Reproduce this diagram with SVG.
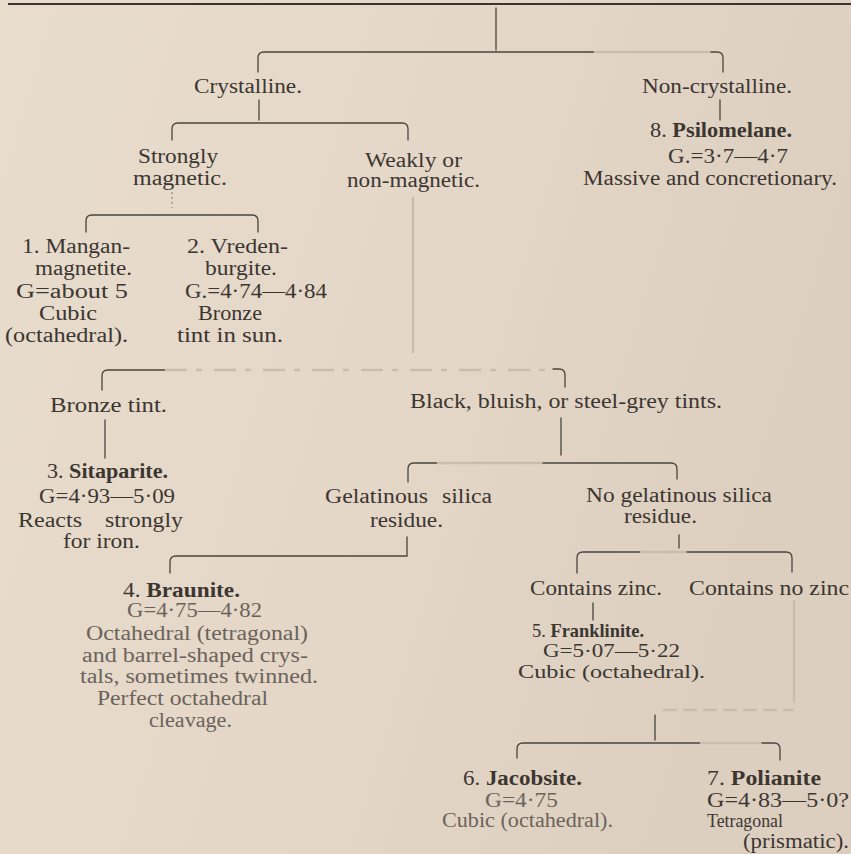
<svg xmlns="http://www.w3.org/2000/svg" width="851" height="854" viewBox="0 0 851 854">
  <defs>
    <linearGradient id="paper" x1="0" y1="0" x2="1" y2="0.3">
      <stop offset="0" stop-color="#e8dccd"/>
      <stop offset="0.55" stop-color="#e4d7c8"/>
      <stop offset="1" stop-color="#dccfc0"/>
    </linearGradient>
    <style>
      text { font-family: "Liberation Serif", "Times New Roman", serif; font-size: 20px; fill: #3c3631; }
      .b { font-weight: bold; }
      .s19 { font-size: 19px; }
      .pale { fill: #6b635b; }
      .ln { stroke: #4a443e; stroke-width: 1.3; fill: none; stroke-linecap: round; }
      .faint { stroke: #cbbdae; stroke-width: 2.4; fill: none; }
      .dot { stroke: #7a7168; stroke-width: 1; stroke-dasharray: 2 3; fill: none; }
      .rule { stroke: #3a3430; stroke-width: 2.2; }
    </style>
  </defs>

  <rect width="851" height="854" fill="url(#paper)"/>

  <!-- connectors -->
  <g id="connectors">
    <line class="rule" x1="8" y1="4" x2="851" y2="4"/>
    <line class="ln" x1="496" y1="8" x2="496" y2="50"/>
    <path class="ln" d="M258,72 V58 Q258,52 264,52 H594"/>
    <line class="faint" x1="594" y1="52" x2="711" y2="52"/>
    <path class="ln" d="M711,52 H717 Q723,52 723,58 V72"/>

    <line class="ln" x1="259" y1="100" x2="259" y2="120"/>
    <line class="ln" x1="720" y1="100" x2="720" y2="120"/>
    <path class="ln" d="M172,140 V129 Q172,123 178,123 H402 Q408,123 408,129 V140"/>

    <line class="dot" x1="172" y1="192" x2="172" y2="208"/>
    <path class="ln" d="M86,232 V221 Q86,215 92,215 H252 Q258,215 258,221 V232"/>

    <line class="faint" x1="413" y1="197" x2="413" y2="353"/>
    <path class="ln" d="M102,390 V376 Q102,370 108,370 H165"/>
    <line class="faint" x1="165" y1="370" x2="553" y2="370" stroke-dasharray="22 9 6 12"/>
    <path class="ln" d="M553,369 H559 Q565,369 565,375 V387"/>

    <line class="ln" x1="105" y1="420" x2="105" y2="458"/>
    <line class="ln" x1="561" y1="418" x2="561" y2="455"/>

    <path class="ln" d="M408,482 V469 Q408,463 414,463 H437"/>
    <line class="faint" x1="437" y1="463" x2="543" y2="463"/>
    <path class="ln" d="M543,463 H671 Q677,463 677,469 V479"/>

    <path class="ln" d="M407,537 V556 H176 Q170,556 170,562 V573"/>

    <line class="ln" x1="679" y1="535" x2="679" y2="548"/>
    <path class="ln" d="M577,573 V558 Q577,552 583,552 H640"/>
    <line class="faint" x1="640" y1="552" x2="687" y2="552"/>
    <path class="ln" d="M687,552 H786 Q792,552 792,558 V572"/>

    <line class="ln" x1="593" y1="603" x2="593" y2="620"/>
    <line class="faint" x1="794" y1="600" x2="794" y2="703"/>
    <line class="faint" x1="663" y1="710" x2="794" y2="710" stroke-dasharray="14 6"/>
    <line class="ln" x1="655" y1="715" x2="655" y2="740"/>
    <path class="ln" d="M517,758 V749 Q517,743 523,743 H700"/>
    <line class="faint" x1="700" y1="743" x2="762" y2="743"/>
    <path class="ln" d="M762,743 H774 Q780,743 780,749 V760"/>
  </g>

  <g id="crystalline">
    <text x="194" y="93" textLength="108" lengthAdjust="spacingAndGlyphs">Crystalline.</text>
  </g>
  <g id="non-crystalline">
    <text x="642" y="93" textLength="150" lengthAdjust="spacingAndGlyphs">Non-crystalline.</text>
  </g>
  <g id="psilomelane">
    <text x="650" y="137" textLength="142" lengthAdjust="spacingAndGlyphs">8. <tspan class="b">Psilomelane.</tspan></text>
    <text x="668" y="163" textLength="120" lengthAdjust="spacingAndGlyphs">G.=3·7—4·7</text>
    <text x="583" y="185" textLength="254" lengthAdjust="spacingAndGlyphs">Massive and concretionary.</text>
  </g>

  <g id="strongly-magnetic">
    <text x="138" y="163" textLength="80" lengthAdjust="spacingAndGlyphs">Strongly</text>
    <text x="133" y="185" textLength="94" lengthAdjust="spacingAndGlyphs">magnetic.</text>
  </g>
  <g id="weakly-magnetic">
    <text x="365" y="167" textLength="97" lengthAdjust="spacingAndGlyphs">Weakly or</text>
    <text x="347" y="187" textLength="133" lengthAdjust="spacingAndGlyphs">non-magnetic.</text>
  </g>

  <g id="manganmagnetite">
    <text x="22" y="253" textLength="108" lengthAdjust="spacingAndGlyphs">1. Mangan-</text>
    <text x="35" y="275" textLength="97" lengthAdjust="spacingAndGlyphs">magnetite.</text>
    <text x="16" y="298" textLength="112" lengthAdjust="spacingAndGlyphs">G=about 5</text>
    <text x="39" y="320" textLength="58" lengthAdjust="spacingAndGlyphs">Cubic</text>
    <text x="5" y="342" textLength="123" lengthAdjust="spacingAndGlyphs">(octahedral).</text>
  </g>
  <g id="vredenburgite">
    <text x="187" y="253" textLength="101" lengthAdjust="spacingAndGlyphs">2. Vreden-</text>
    <text x="205" y="275" textLength="72" lengthAdjust="spacingAndGlyphs">burgite.</text>
    <text x="185" y="298" textLength="142" lengthAdjust="spacingAndGlyphs">G.=4·74—4·84</text>
    <text x="198" y="320" textLength="64" lengthAdjust="spacingAndGlyphs">Bronze</text>
    <text x="177" y="342" textLength="106" lengthAdjust="spacingAndGlyphs">tint in sun.</text>
  </g>

  <g id="bronze-tint">
    <text x="50" y="412" textLength="117" lengthAdjust="spacingAndGlyphs">Bronze tint.</text>
  </g>
  <g id="black-tints">
    <text x="410" y="408" textLength="312" lengthAdjust="spacingAndGlyphs">Black, bluish, or steel-grey tints.</text>
  </g>

  <g id="sitaparite">
    <text x="47" y="478" textLength="121" lengthAdjust="spacingAndGlyphs">3. <tspan class="b">Sitaparite.</tspan></text>
    <text x="39" y="503" textLength="136" lengthAdjust="spacingAndGlyphs">G=4·93—5·09</text>
    <text x="18" y="527" textLength="64" lengthAdjust="spacingAndGlyphs">Reacts</text>
    <text x="105" y="527" textLength="78" lengthAdjust="spacingAndGlyphs">strongly</text>
    <text x="63" y="548" textLength="77" lengthAdjust="spacingAndGlyphs">for iron.</text>
  </g>

  <g id="gelatinous">
    <text x="325" y="503" textLength="103" lengthAdjust="spacingAndGlyphs">Gelatinous</text>
    <text x="442" y="503" textLength="50" lengthAdjust="spacingAndGlyphs">silica</text>
    <text x="370" y="527" textLength="73" lengthAdjust="spacingAndGlyphs">residue.</text>
  </g>
  <g id="no-gelatinous">
    <text x="586" y="502" textLength="186" lengthAdjust="spacingAndGlyphs">No gelatinous silica</text>
    <text x="624" y="523" textLength="73" lengthAdjust="spacingAndGlyphs">residue.</text>
  </g>

  <g id="braunite">
    <text x="123" y="597" textLength="117" lengthAdjust="spacingAndGlyphs">4. <tspan class="b">Braunite.</tspan></text>
    <text x="127" y="617" textLength="135" lengthAdjust="spacingAndGlyphs" class="pale">G=4·75—4·82</text>
    <text x="86" y="640" textLength="222" lengthAdjust="spacingAndGlyphs" class="pale">Octahedral (tetragonal)</text>
    <text x="82" y="662" textLength="226" lengthAdjust="spacingAndGlyphs" class="pale">and barrel-shaped crys-</text>
    <text x="80" y="683" textLength="238" lengthAdjust="spacingAndGlyphs" class="pale">tals, sometimes twinned.</text>
    <text x="97" y="705" textLength="171" lengthAdjust="spacingAndGlyphs" class="pale">Perfect octahedral</text>
    <text x="149" y="727" textLength="83" lengthAdjust="spacingAndGlyphs" class="pale">cleavage.</text>
  </g>

  <g id="contains-zinc">
    <text x="530" y="595" textLength="132" lengthAdjust="spacingAndGlyphs">Contains zinc.</text>
  </g>
  <g id="contains-no-zinc">
    <text x="689" y="595" textLength="160" lengthAdjust="spacingAndGlyphs">Contains no zinc</text>
  </g>

  <g id="franklinite">
    <text x="532" y="637" class="s19" textLength="112" lengthAdjust="spacingAndGlyphs">5. <tspan class="b">Franklinite.</tspan></text>
    <text x="543" y="657" class="s19" textLength="137" lengthAdjust="spacingAndGlyphs">G=5·07—5·22</text>
    <text x="518" y="678" class="s19" textLength="187" lengthAdjust="spacingAndGlyphs">Cubic (octahedral).</text>
  </g>

  <g id="jacobsite">
    <text x="463" y="785" textLength="119" lengthAdjust="spacingAndGlyphs">6. <tspan class="b">Jacobsite.</tspan></text>
    <text x="485" y="807" textLength="73" lengthAdjust="spacingAndGlyphs" class="pale">G=4·75</text>
    <text x="442" y="827" textLength="171" lengthAdjust="spacingAndGlyphs" class="pale">Cubic (octahedral).</text>
  </g>

  <g id="polianite">
    <text x="707" y="785" textLength="114" lengthAdjust="spacingAndGlyphs">7. <tspan class="b">Polianite</tspan></text>
    <text x="707" y="807" textLength="142" lengthAdjust="spacingAndGlyphs">G=4·83—5·0?</text>
    <text x="707" y="827" class="s19" textLength="76" lengthAdjust="spacingAndGlyphs">Tetragonal</text>
    <text x="743" y="848" textLength="106" lengthAdjust="spacingAndGlyphs">(prismatic).</text>
  </g>
</svg>
